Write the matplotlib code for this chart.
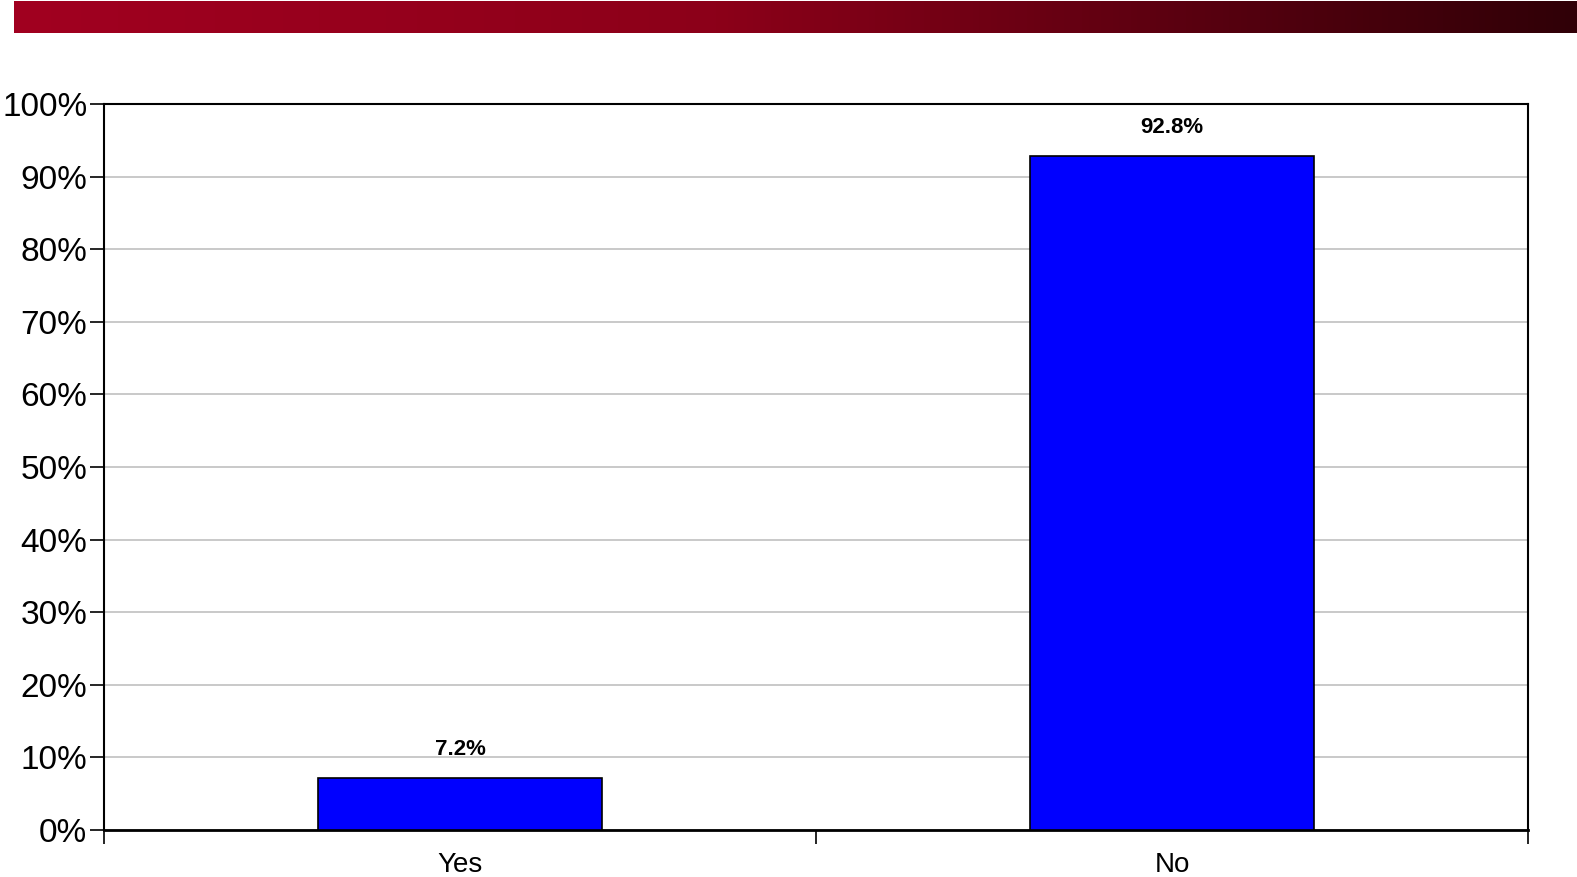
import numpy as np
import matplotlib.pyplot as plt
from matplotlib.colors import LinearSegmentedColormap
from matplotlib.ticker import FixedLocator, FuncFormatter

plt.rcParams['font.family'] = ['Liberation Sans', 'DejaVu Sans']

categories = ['Yes', 'No']
values = [7.2, 92.8]
yticks = [0, 10, 20, 30, 40, 50, 60, 70, 80, 90, 100]

W, H = 1577, 877
fig = plt.figure(figsize=(W / 100, H / 100), dpi=100)

# red header band with gradient
band = fig.add_axes([14 / W, 1 - 33 / H, 1 - 14 / W, 32 / H])
cmap = LinearSegmentedColormap.from_list(
    'band', [(0.0, '#a10020'), (0.45, '#8c0019'), (0.75, '#5a0010'), (1.0, '#300007')])
band.imshow(np.linspace(0, 1, 512)[None, :], aspect='auto', cmap=cmap)
band.axis('off')

# main chart
left, right, top, bottom = 104, 1528, 104, 830
ax = fig.add_axes([left / W, 1 - bottom / H, (right - left) / W, (bottom - top) / H])
x = np.arange(len(categories))
bars = ax.bar(x, values, width=0.4, color='#0000ff', edgecolor='black', linewidth=1.2, zorder=3)

for xi, v in zip(x, values):
    ax.annotate(f'{v:.1f}%', (xi, v), xytext=(0, 13), textcoords='offset points',
                ha='center', va='bottom', fontsize=16, fontweight='bold')

ax.set_xlim(-0.5, len(categories) - 0.5)
ax.set_ylim(0, 100)
ax.set_yticks(yticks)
ax.yaxis.set_major_formatter(FuncFormatter(lambda v, p: f'{v:.0f}%'))
ax.tick_params(axis='y', labelsize=24, length=10, width=1.2, direction='out', pad=2)
ax.grid(axis='y', color='#c0c0c0', linewidth=1.2, zorder=0)

# category boundary ticks, labels centered between them
ax.xaxis.set_major_locator(FixedLocator(np.arange(len(categories) + 1) - 0.5))
ax.xaxis.set_major_formatter(FuncFormatter(lambda v, p: ''))
ax.xaxis.set_minor_locator(FixedLocator(x))
ax.set_xticklabels(categories, minor=True)
ax.tick_params(axis='x', which='major', length=10, width=1.2, direction='out')
ax.tick_params(axis='x', which='minor', length=0, labelsize=20, pad=16)

for s in ax.spines.values():
    s.set_linewidth(1.5)
    s.set_color('black')
ax.spines['bottom'].set_linewidth(2)

fig.savefig('out.png', dpi=100)
